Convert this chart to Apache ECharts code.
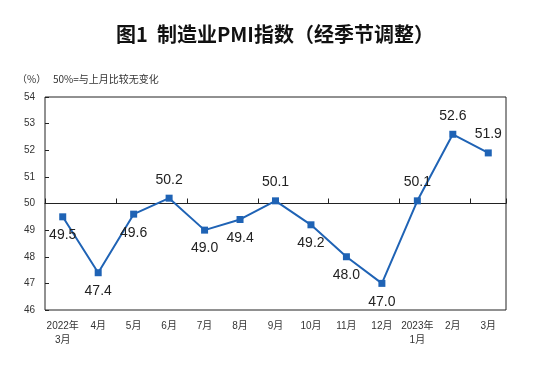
<!DOCTYPE html>
<html><head><meta charset="utf-8">
<script src="https://cdn.jsdelivr.net/npm/echarts@6/dist/echarts.min.js"></script>
<style>html,body{margin:0;padding:0;background:#fff}#c{width:550px;height:373px}</style>
</head><body><div id="c"></div>
<script>
const categories = ['2022年\n3月','4月','5月','6月','7月','8月','9月','10月','11月','12月','2023年\n1月','2月','3月'];
const pmiValues = [49.5,47.4,49.6,50.2,49.0,49.4,50.1,49.2,48.0,47.0,50.1,52.6,51.9];
const labelPositions = ['bottom','bottom','bottom','top','bottom','bottom','top','bottom','bottom','bottom','top','top','top'];
const yTicks = [46,47,48,49,50,51,52,53,54];

const chart = echarts.init(document.getElementById('c'));
const gridTop = 97, gridBottom = 63;
const gridH = 373 - gridTop - gridBottom;
const yMin = 46, yMax = 54, baseLine = 50;
chart.setOption({
  animation: false,
  textStyle: {fontFamily: 'Arial, "Liberation Sans", "Noto Sans CJK SC"'},
  title: [{
    text: '图1  制造业PMI指数（经季节调整）',
    left: 'center', top: 19,
    textStyle: {fontSize: 20, fontWeight: 'bold', color: '#111', fontFamily: '"Noto Sans CJK SC"'}
  },{
    text: '（%）   50%=与上月比较无变化',
    left: 12, top: 69,
    textStyle: {fontSize: 10, fontWeight: 'normal', color: '#333', fontFamily: '"Noto Sans CJK SC"'}
  }],
  grid: {left: 45, right: 44, top: gridTop, bottom: gridBottom, show: true, borderColor: '#222', borderWidth: 1},
  xAxis: [{
    type: 'category', data: categories, boundaryGap: true, position: 'bottom',
    axisLine: {show: false}, axisTick: {show: false},
    axisLabel: {fontSize: 10, color: '#333', margin: 9, lineHeight: 14, interval: 0}
  },{
    type: 'category', data: categories, boundaryGap: true, position: 'bottom',
    offset: -gridH * (baseLine - yMin) / (yMax - yMin),
    axisLine: {show: true, lineStyle: {color: '#222', width: 1}},
    axisTick: {show: true, inside: true, length: 5, lineStyle: {color: '#222'}},
    axisLabel: {show: false}
  }],
  yAxis: {
    type: 'value', min: yMin, max: yMax, interval: 1,
    axisLine: {show: false},
    axisTick: {show: true, inside: true, length: 4, lineStyle: {color: '#222'}},
    splitLine: {show: false},
    axisLabel: {fontSize: 10, color: '#333', margin: 10}
  },
  series: [{
    type: 'line', xAxisIndex: 0,
    data: pmiValues.map((v, i) => ({value: v, label: {position: labelPositions[i]}})),
    symbol: 'rect', symbolSize: 7,
    lineStyle: {color: '#1f63b5', width: 2},
    itemStyle: {color: '#1f63b5'},
    label: {show: true, fontSize: 14, color: '#222', distance: 8, formatter: p => p.value.toFixed(1)}
  }]
});
</script></body></html>
